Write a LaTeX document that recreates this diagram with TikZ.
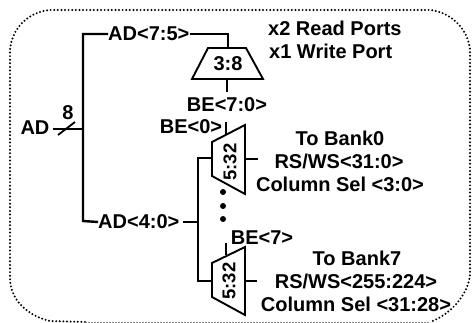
\documentclass[tikz,border=0pt]{standalone}
\usepackage{fontspec}
\setmainfont{Liberation Sans}
\begin{document}
\begin{tikzpicture}[x=1pt,y=-1pt,
  lbl/.style={font=\fontsize{20}{22}\selectfont\bfseries,inner sep=0pt},
  rlbl/.style={font=\fontsize{18.5}{20}\selectfont\bfseries,inner sep=0pt,rotate=90},
  wire/.style={line width=1.8pt},
  thick wire/.style={line width=2.4pt},
  mux/.style={line width=1.9pt,line join=miter},
  border/.style={line width=2.2pt,line cap=round,dash pattern=on 0pt off 3.6pt},
  faint/.style={line width=0.8pt,gray,dash pattern=on 1.5pt off 1.5pt}]
\useasboundingbox (0,0) rectangle (472,323);
\fill[white] (0,0) rectangle (472,323);
\draw[border] (85,322) -- (50,321) .. controls (28,316) and (10,300) .. (10,278) -- (10,50) .. controls (12,28) and (28,12) .. (50,10) -- (430,10) .. controls (450,12) and (468,28) .. (470,50) -- (470,275) .. controls (468,295) and (450,315) .. (430,322);
\draw[faint] (85,322) -- (430,322);
\node[lbl] (ad) at (35,128) {AD};
\node[lbl] (w8) at (68,113) {8};
\node[lbl,anchor=west] (ad75) at (108,34) {AD<7:5>};
\node[lbl,anchor=west] (ad40) at (98,222) {AD<4:0>};
\coordinate (j) at (83,129);
\coordinate (top) at (83,34);
\coordinate (bot) at (83,221);
\draw[wire] (53,129) -- (j);
\draw[wire] (58,135) -- (75,122);
\draw[thick wire] (ad75.west) -- (top) -- (bot) -- (ad40.west);
\node[lbl,anchor=west] (x2) at (268,28) {x2 Read Ports};
\node[lbl,anchor=west] (x1) at (269,51) {x1 Write Port};
\draw[mux] (208,48) -- (246,48) -- (263,79) -- (192,79) -- cycle;
\node[lbl] (d38) at (228,64) {3:8};
\coordinate (dectop) at (228,48);
\coordinate (decbot) at (227,79);
\draw[wire] (ad75.east) -- (228,34) -- (dectop);
\node[lbl] (be70) at (227,105) {BE<7:0>};
\draw[wire] (decbot) -- (227,92);
\node[lbl] (be0) at (191,127) {BE<0>};
\node[lbl] (tb0) at (340,138) {To Bank0};
\node[lbl] (rs0) at (339,161) {RS/WS<31:0>};
\node[lbl] (cs0) at (340,184) {Column Sel <3:0>};
\node[lbl] (be7) at (262,238) {BE<7>};
\node[lbl] (tb7) at (357,258) {To Bank7};
\node[lbl] (rs7) at (356,281) {RS/WS<255:224>};
\node[lbl] (cs7) at (356,304) {Column Sel <31:28>};
\draw[mux] (212,142) -- (245,125) -- (245,194) -- (212,176) -- cycle;
\draw[mux] (212,263) -- (245,247) -- (245,315) -- (212,297) -- cycle;
\node[rlbl] (m0) at (230,162) {5:32};
\node[rlbl] (m7) at (229,281) {5:32};
\draw[wire] (226,122) -- (226,134);
\draw[wire] (226,243) -- (226,255);
\draw[wire] (212,158) -- (198,158) -- (198,281) -- (212,281);
\draw[wire] (183,222) -- (198,222);
\draw[wire] (245,159) -- (258,159);
\draw[wire] (245,281) -- (257,281);
\foreach \y in {192,206,219} \fill (223,\y) circle (3);
\end{tikzpicture}
\end{document}
